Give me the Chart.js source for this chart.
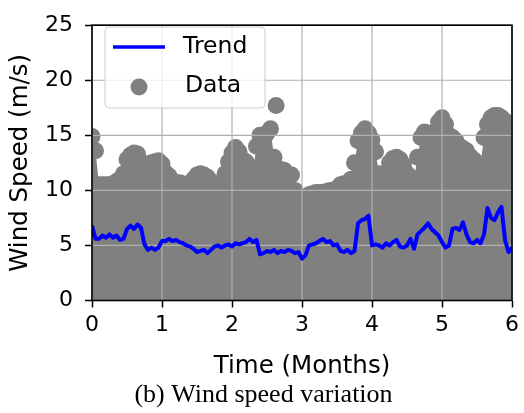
<!DOCTYPE html>
<html>
<head>
<meta charset="utf-8">
<script src="https://cdn.jsdelivr.net/npm/chart.js@4.4.0/dist/chart.umd.min.js"></script>
<style>
  html, body { margin: 0; padding: 0; background: #fff; }
  #wrap { width: 524px; height: 413px; }
</style>
</head>
<body>
<div id="wrap"><canvas id="windChart" width="524" height="413"></canvas></div>
<script>
// Tiempo en meses (paso de 0.05)
const timeMonths = [
  0, 0.05, 0.1, 0.15, 0.2, 0.25, 0.3, 0.35, 0.4, 0.45,
  0.5, 0.55, 0.6, 0.65, 0.7, 0.75, 0.8, 0.85, 0.9, 0.95,
  1, 1.05, 1.1, 1.15, 1.2, 1.25, 1.3, 1.35, 1.4, 1.45,
  1.5, 1.55, 1.6, 1.65, 1.7, 1.75, 1.8, 1.85, 1.9, 1.95,
  2, 2.05, 2.1, 2.15, 2.2, 2.25, 2.3, 2.35, 2.4, 2.45,
  2.5, 2.55, 2.6, 2.65, 2.7, 2.75, 2.8, 2.85, 2.9, 2.95,
  3, 3.05, 3.1, 3.15, 3.2, 3.25, 3.3, 3.35, 3.4, 3.45,
  3.5, 3.55, 3.6, 3.65, 3.7, 3.75, 3.8, 3.85, 3.9, 3.95,
  4, 4.05, 4.1, 4.15, 4.2, 4.25, 4.3, 4.35, 4.4, 4.45,
  4.5, 4.55, 4.6, 4.65, 4.7, 4.75, 4.8, 4.85, 4.9, 4.95,
  5, 5.05, 5.1, 5.15, 5.2, 5.25, 5.3, 5.35, 5.4, 5.45,
  5.5, 5.55, 5.6, 5.65, 5.7, 5.75, 5.8, 5.85, 5.9, 5.95,
  6
];

// Tendencia (m/s)
const trendSpeed = [
  6.8, 5.6, 5.6, 5.9, 5.7, 6.0, 5.7, 5.9, 5.5, 5.6,
  6.5, 6.8, 6.5, 6.9, 6.6, 5.1, 4.6, 4.8, 4.6, 4.8,
  5.4, 5.4, 5.6, 5.4, 5.5, 5.3, 5.2, 5.0, 4.9, 4.7,
  4.4, 4.5, 4.6, 4.3, 4.6, 4.9, 5.0, 4.8, 5.0, 5.1,
  4.9, 5.2, 5.1, 5.2, 5.3, 5.6, 5.3, 5.5, 4.2, 4.3,
  4.5, 4.4, 4.6, 4.3, 4.5, 4.4, 4.6, 4.5, 4.3, 4.4,
  3.8, 4.1, 5.0, 5.1, 5.2, 5.4, 5.6, 5.3, 5.4, 5.0,
  5.1, 4.5, 4.4, 4.6, 4.3, 4.5, 7.0, 7.3, 7.4, 7.7,
  5.0, 5.1, 5.0, 4.8, 5.2, 5.0, 5.3, 5.5, 4.9, 4.8,
  5.0, 5.6, 4.7, 6.0, 6.3, 6.6, 7.0, 6.5, 6.2, 5.9,
  5.3, 4.8, 5.0, 6.5, 6.6, 6.4, 7.1, 6.0, 5.3, 5.2,
  5.5, 5.2, 6.0, 8.4, 7.5, 7.3, 8.0, 8.5, 5.5, 4.4,
  4.8
];

// Máximos de las muestras (centro de los puntos superiores, m/s)
const dataEnvelope = [
  14.9, 13.6, 10.5, 10.5, 10.5, 10.5, 10.6, 10.8, 11.0, 11.5,
  12.8, 13.2, 13.4, 13.3, 12.6, 12.0, 12.2, 12.5, 12.6, 12.7,
  12.4, 11.6, 11.3, 10.8, 10.7, 10.7, 10.6, 10.5, 10.6, 11.0,
  11.4, 11.5, 11.4, 11.2, 10.8, 10.4, 10.4, 10.5, 11.5, 12.6,
  13.4, 13.9, 13.5, 12.8, 12.6, 12.2, 11.8, 14.0, 15.0, 14.6,
  15.2, 15.6, 13.0, 11.8, 11.9, 11.8, 11.4, 11.4, 10.0, 9.3,
  9.2, 9.3, 9.6, 9.7, 9.8, 9.8, 9.8, 9.9, 10.0, 10.0,
  10.2, 10.5, 10.6, 10.7, 11.0, 12.5, 14.5, 15.2, 15.6, 15.2,
  14.6, 13.5, 11.5, 11.2, 11.5, 12.5, 12.9, 13.0, 12.8, 12.3,
  11.5, 11.2, 11.0, 13.0, 14.8, 15.3, 15.2, 15.0, 15.3, 16.2,
  16.6, 16.0, 15.0, 14.8, 14.5, 14.0, 13.8, 13.6, 13.1, 12.8,
  12.5, 12.4, 14.8, 16.0, 16.6, 16.8, 16.8, 16.6, 16.3, 16.0,
  15.6
];

// Puntos aislados
const outlierTimes = [2.63];
const outlierSpeed = [17.7];

const xTicks = [0, 1, 2, 3, 4, 5, 6];
const yTicks = [0, 5, 10, 15, 20, 25];

const GRAY = '#808080';
const BLUE = '#0000ff';
const SANS = '"DejaVu Sans", sans-serif';

function toPoints(xs, ys) {
  return xs.map((x, i) => ({ x: x, y: ys[i] }));
}

// Rejilla encima de los datos grises, debajo de la tendencia
const gridOverData = {
  id: 'gridOverData',
  afterDatasetDraw(chart, args) {
    if (chart.data.datasets[args.index].label !== 'Data') return;
    const { ctx, chartArea: a, scales: { x, y } } = chart;
    ctx.save();
    ctx.strokeStyle = '#b0b0b0';
    ctx.lineWidth = 1.2;
    ctx.beginPath();
    xTicks.forEach(v => {
      const px = x.getPixelForValue(v);
      ctx.moveTo(px, a.top);
      ctx.lineTo(px, a.bottom);
    });
    yTicks.forEach(v => {
      const py = y.getPixelForValue(v);
      ctx.moveTo(a.left, py);
      ctx.lineTo(a.right, py);
    });
    ctx.stroke();
    ctx.restore();
  },
  afterDatasetsDraw(chart) {
    const { ctx, chartArea: a } = chart;
    ctx.save();
    ctx.strokeStyle = '#000';
    ctx.lineWidth = 1.6;
    ctx.strokeRect(a.left, a.top, a.right - a.left, a.bottom - a.top);
    ctx.restore();
  }
};

// Leyenda, títulos de ejes y pie de figura
const decorations = {
  id: 'decorations',
  afterDraw(chart) {
    const { ctx, chartArea: a } = chart;
    const sets = chart.data.datasets;
    ctx.save();

    // caja de la leyenda
    ctx.beginPath();
    ctx.roundRect(105, 27, 160, 81, 4);
    ctx.fillStyle = 'rgba(255,255,255,0.8)';
    ctx.fill();
    ctx.strokeStyle = '#cccccc';
    ctx.lineWidth = 1;
    ctx.stroke();

    ctx.strokeStyle = BLUE;
    ctx.lineWidth = 3.5;
    ctx.beginPath();
    ctx.moveTo(113, 47);
    ctx.lineTo(165, 47);
    ctx.stroke();

    ctx.fillStyle = GRAY;
    ctx.beginPath();
    ctx.arc(139, 87, 8.5, 0, Math.PI * 2);
    ctx.fill();

    ctx.fillStyle = '#000';
    ctx.font = '23.5px ' + SANS;
    ctx.textAlign = 'left';
    ctx.textBaseline = 'middle';
    ctx.fillText(sets[0].label, 183, 47);
    ctx.fillText(sets[1].label, 185, 86);

    // títulos de ejes
    ctx.font = '24.5px ' + SANS;
    ctx.textAlign = 'center';
    ctx.textBaseline = 'alphabetic';
    ctx.fillText('Time (Months)', (a.left + a.right) / 2, 373);

    ctx.save();
    ctx.translate(27, (a.top + a.bottom) / 2);
    ctx.rotate(-Math.PI / 2);
    ctx.fillText('Wind Speed (m/s)', 0, 0);
    ctx.restore();

    // pie de figura
    ctx.font = '26px "Liberation Serif", "Times New Roman", serif';
    ctx.fillText('(b) Wind speed variation', 263.5, 402);

    ctx.restore();
  }
};

const tickFont = { family: SANS, size: 22 };

new Chart(document.getElementById('windChart'), {
  data: {
    datasets: [
      {
        type: 'line',
        label: 'Trend',
        data: toPoints(timeMonths, trendSpeed),
        borderColor: BLUE,
        borderWidth: 4,
        borderJoinStyle: 'round',
        pointRadius: 0,
        tension: 0,
        clip: 0,
        order: 0
      },
      {
        type: 'scatter',
        label: 'Data',
        data: toPoints(timeMonths, dataEnvelope).concat(toPoints(outlierTimes, outlierSpeed)),
        backgroundColor: GRAY,
        pointRadius: 8.5,
        pointBorderWidth: 0,
        clip: 0,
        order: 1
      },
      {
        type: 'line',
        label: 'mass',
        data: toPoints(timeMonths, dataEnvelope),
        backgroundColor: GRAY,
        borderWidth: 0,
        pointRadius: 0,
        fill: 'origin',
        clip: 0,
        order: 2
      }
    ]
  },
  options: {
    responsive: false,
    animation: false,
    devicePixelRatio: 1,
    layout: { padding: { top: 15, right: 7.5, left: 0, bottom: 0 } },
    plugins: {
      legend: { display: false },
      tooltip: { enabled: false }
    },
    scales: {
      x: {
        type: 'linear',
        min: 0,
        max: 6,
        afterFit: s => { s.height = 112.5; },
        afterBuildTicks: s => { s.ticks = xTicks.map(v => ({ value: v })); },
        ticks: { font: tickFont, color: '#000', padding: 5 },
        grid: { drawOnChartArea: false, tickColor: '#000', tickLength: 7, tickWidth: 1.5 },
        border: { display: false }
      },
      y: {
        type: 'linear',
        min: 0,
        max: 25,
        afterFit: s => { s.width = 92; },
        afterBuildTicks: s => { s.ticks = yTicks.map(v => ({ value: v })); },
        ticks: { font: tickFont, color: '#000', padding: 12 },
        grid: { drawOnChartArea: false, tickColor: '#000', tickLength: 7, tickWidth: 1.5 },
        border: { display: false }
      }
    }
  },
  plugins: [gridOverData, decorations]
});
</script>
</body>
</html>
